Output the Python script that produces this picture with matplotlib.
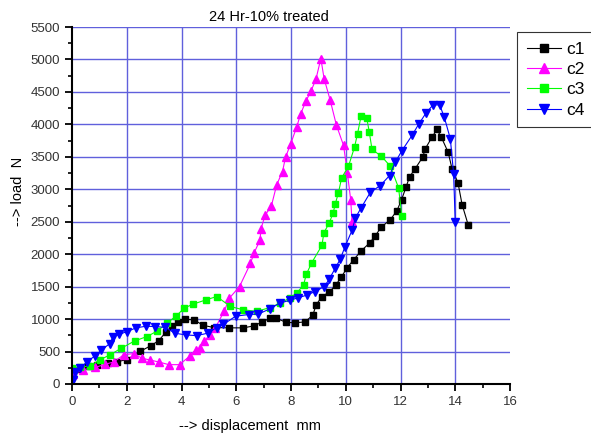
import matplotlib
matplotlib.use("Agg")
import matplotlib.pyplot as plt
from matplotlib.ticker import MultipleLocator

plt.rcParams["font.family"] = ["Liberation Sans", "DejaVu Sans"]

# Data (displacement mm, load N)
c1_x = [0.05, 0.3, 0.6, 0.9, 1.3, 1.65, 2.01, 2.5, 2.88, 3.17, 3.42, 3.66, 3.87, 4.13,
        4.47, 4.78, 5.18, 5.72, 6.26, 6.64, 6.93, 7.24, 7.47, 7.8, 8.13, 8.52, 8.8,
        8.92, 9.13, 9.4, 9.64, 9.84, 10.04, 10.29, 10.57, 10.87, 11.08, 11.3, 11.63,
        11.87, 12.04, 12.2, 12.33, 12.54, 12.81, 12.91, 13.15, 13.33, 13.49, 13.74,
        13.88, 14.1, 14.25, 14.47]
c1_y = [150, 230, 270, 300, 330, 345, 375, 505, 590, 669, 795, 890, 962, 998,
        988, 905, 870, 865, 865, 895, 952, 1014, 1014, 952, 942, 957, 1065,
        1220, 1348, 1416, 1529, 1647, 1786, 1915, 2054, 2172, 2285, 2419, 2532,
        2671, 2840, 3031, 3191, 3320, 3494, 3628, 3803, 3922, 3803, 3571,
        3320, 3099, 2764, 2455]

c2_x = [0.05, 0.4, 0.85, 1.21, 1.53, 1.9, 2.26, 2.55, 2.85, 3.16, 3.54, 3.93, 4.3,
        4.52, 4.68, 4.83, 5.05, 5.23, 5.57, 5.75, 6.12, 6.52, 6.65, 6.87, 6.9, 7.06,
        7.28, 7.48, 7.69, 7.8, 7.99, 8.21, 8.35, 8.54, 8.73, 8.91, 9.09, 9.21, 9.43,
        9.66, 9.92, 10.06, 10.18, 10.23]
c2_y = [150, 220, 255, 304, 340, 453, 468, 397, 370, 340, 298, 298, 430,
        530, 551, 658, 760, 860, 1132, 1323, 1502, 1858, 2018, 2219, 2389, 2604,
        2738, 3073, 3273, 3494, 3700, 3963, 4158, 4354, 4513, 4694, 5013, 4704, 4375,
        3986, 3675, 3250, 2840, 2496]

c3_x = [0.0, 0.3, 0.65, 1.01, 1.38, 1.8, 2.29, 2.74, 3.12, 3.47, 3.81, 4.1, 4.42,
        4.9, 5.29, 5.78, 6.25, 6.75, 7.24, 7.6, 7.95, 8.21, 8.46, 8.56, 8.75, 9.13,
        9.2, 9.4, 9.54, 9.62, 9.73, 9.85, 10.1, 10.32, 10.43, 10.56, 10.77, 10.86,
        10.96, 11.3, 11.63, 11.93, 12.05]
c3_y = [242, 260, 278, 370, 448, 551, 664, 731, 818, 937, 1050, 1169, 1230,
        1297, 1348, 1195, 1143, 1120, 1178, 1246, 1323, 1400, 1529, 1690, 1863, 2136,
        2327, 2486, 2635, 2780, 2940, 3176, 3355, 3649, 3855, 4127, 4092, 3880,
        3613, 3510, 3355, 3021, 2583]

c4_x = [0.03, 0.1, 0.3, 0.55, 0.84, 1.07, 1.37, 1.51, 1.73, 2.01, 2.34, 2.7, 3.05,
        3.41, 3.76, 4.15, 4.55, 4.95, 5.29, 5.53, 5.98, 6.45, 6.81, 7.22, 7.59, 7.97,
        8.26, 8.58, 8.88, 9.22, 9.39, 9.62, 9.8, 9.97, 10.24, 10.35, 10.56, 10.9,
        11.26, 11.6, 11.81, 12.04, 12.42, 12.66, 12.94, 13.19, 13.43, 13.6, 13.82,
        13.94, 14.0]
c4_y = [60, 190, 242, 345, 432, 520, 620, 731, 765, 808, 865, 890, 885,
        872, 782, 757, 745, 782, 870, 918, 1045, 1070, 1078, 1156, 1246, 1291,
        1328, 1370, 1425, 1502, 1611, 1786, 1925, 2112, 2378, 2558, 2712, 2954,
        3057, 3211, 3417, 3587, 3829, 4000, 4180, 4300, 4300, 4110, 3778,
        3240, 2490]

fig = plt.figure(figsize=(5.91, 4.34), dpi=100)
ax = fig.add_axes([72 / 591, 50 / 434, 438 / 591, 357 / 434])

grid_col = "#6060dc"
for gx in range(2, 16, 2):
    ax.axvline(gx, color=grid_col, linewidth=1, zorder=0)
for gy in range(500, 5501, 500):
    ax.axhline(gy, color=grid_col, linewidth=1, zorder=0)

ax.plot(c1_x, c1_y, color="black", linewidth=0.8, marker="s", markersize=5, label="c1")
ax.plot(c2_x, c2_y, color="#ff00ff", linewidth=0.8, marker="^", markersize=6, label="c2")
ax.plot(c3_x, c3_y, color="#00ff00", linewidth=0.8, marker="s", markersize=5, label="c3")
ax.plot(c4_x, c4_y, color="#0000ff", linewidth=0.8, marker="v", markersize=6, label="c4")

ax.set_xlim(0, 16)
ax.set_ylim(0, 5500)
ax.xaxis.set_major_locator(MultipleLocator(2))
ax.xaxis.set_minor_locator(MultipleLocator(1))
ax.yaxis.set_major_locator(MultipleLocator(500))
ax.yaxis.set_minor_locator(MultipleLocator(250))

ax.spines["top"].set_visible(False)
ax.spines["right"].set_visible(False)
ax.spines["left"].set_linewidth(1.5)
ax.spines["bottom"].set_linewidth(1.5)
ax.tick_params(which="major", direction="out", length=5, width=1.3, labelsize=9.5,
               labelcolor="#333333")
ax.tick_params(which="minor", direction="out", length=3, width=1.2)

fig.text(269 / 591, 1 - 17 / 434, "24 Hr-10% treated", ha="center", va="center", fontsize=10.5)
fig.text(250 / 591, 1 - 426 / 434, "--> displacement  mm", ha="center", va="center", fontsize=10.5)
fig.text(18 / 591, 0.56, "--> load  N", ha="center", va="center", rotation=90, fontsize=10.5)

leg = fig.legend(loc="upper left", bbox_to_anchor=(517 / 591, 1 - 32 / 434), fontsize=12.5,
                 fancybox=False, edgecolor="#333333", framealpha=1, handlelength=2.0,
                 borderpad=0.55, labelspacing=0.3, handletextpad=0.3, borderaxespad=0,
                 markerscale=1.2)
leg.get_frame().set_linewidth(0.8)

fig.savefig("out.png", dpi=100)
